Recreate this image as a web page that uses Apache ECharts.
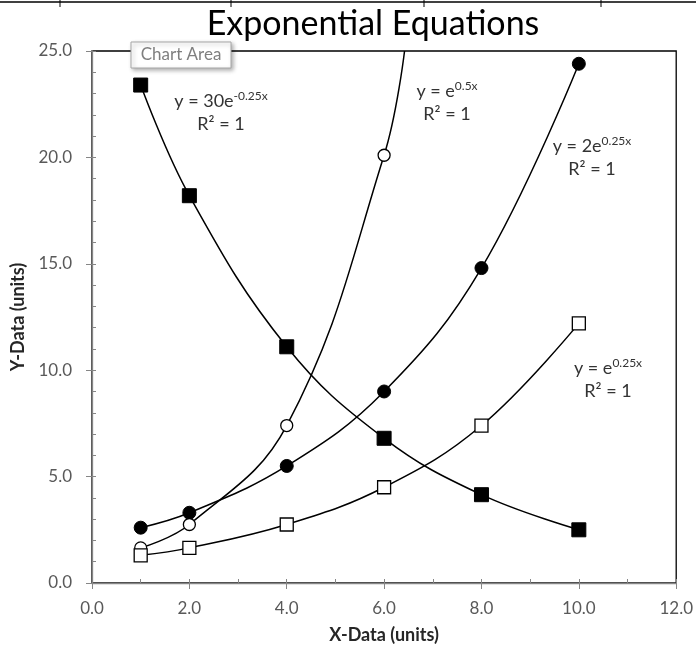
<!DOCTYPE html>
<html>
<head>
<meta charset="utf-8">
<script src="https://cdn.jsdelivr.net/npm/echarts@6/dist/echarts.min.js"></script>
<style>
  html, body { margin: 0; padding: 0; background: #fff; }
  #chart { width: 696px; height: 649px; }
</style>
</head>
<body>
<div id="chart"></div>
<script>
// x positions shared by all four series
var xData = [1, 2, 4, 6, 8, 10];
// y = 30e^-0.25x  (filled squares)
var decayVals = [23.4, 18.2, 11.1, 6.8, 4.15, 2.5];
// y = 2e^0.25x  (filled circles)
var twoGrowthVals = [2.6, 3.3, 5.5, 9.0, 14.8, 24.4];
// y = e^0.5x  (open circles), last point is where the trendline leaves the top
var fastVals = [1.65, 2.75, 7.4, 20.1];
var fastExit = [6.42, 25];
// y = e^0.25x  (open squares)
var slowVals = [1.3, 1.65, 2.75, 4.5, 7.4, 12.2];

var xTicks = [0, 2, 4, 6, 8, 10, 12];
var yTicks = [0, 5, 10, 15, 20, 25];

var FONT = 'Lato, "Open Sans", sans-serif';

function pairs(xs, ys) {
  var out = [];
  for (var i = 0; i < ys.length; i++) out.push([xs[i], ys[i]]);
  return out;
}

var fastData = pairs(xData, fastVals);
fastData.push({ value: fastExit, symbol: 'none' });

var lineStyle = { color: '#000', width: 1.5 };

// trendline equation + R² text, both lines centred on cx
function eqLabel(cx, cy, txt, sup) {
  return [
    {
      type: 'text', x: cx, y: cy - 12,
      style: {
        text: '{b|' + txt + '}{s|' + sup + '}',
        align: 'center', verticalAlign: 'top',
        rich: {
          b: { font: '18px ' + FONT, lineHeight: 20, verticalAlign: 'bottom', fill: '#333' },
          s: { font: '12px ' + FONT, lineHeight: 12, verticalAlign: 'top', fill: '#333' }
        }
      }
    },
    {
      type: 'text', x: cx, y: cy + 22,
      style: { text: 'R² = 1', align: 'center', verticalAlign: 'middle',
        font: '18px ' + FONT, fill: '#333' }
    }
  ];
}

var labels = [].concat(
  eqLabel(221, 102, 'y = 30e', '-0.25x'),
  eqLabel(447, 92, 'y = e', '0.5x'),
  eqLabel(592, 147, 'y = 2e', '0.25x'),
  eqLabel(608, 369, 'y = e', '0.25x')
);

var myChart = echarts.init(document.getElementById('chart'));
var option = {
  animation: false,
  backgroundColor: '#fff',
  title: {
    text: 'Exponential Equations',
    left: 368,
    top: 2,
    textAlign: 'center',
    textStyle: { fontFamily: FONT, fontSize: 34, fontWeight: 'normal', color: '#000' }
  },
  grid: {
    left: 92, right: 19, top: 51, bottom: 65,
    show: true, borderColor: '#000', borderWidth: 1.3, backgroundColor: 'transparent'
  },
  xAxis: [
    {
      type: 'value', min: xTicks[0], max: xTicks[xTicks.length - 1], interval: 2,
      position: 'bottom',
      name: 'X-Data (units)', nameLocation: 'middle', nameGap: 43,
      nameTextStyle: { fontFamily: FONT, fontSize: 18, fontWeight: 'bold', color: '#262626' },
      axisLine: { lineStyle: { color: '#868686', width: 1.3 } },
      axisTick: { inside: false, length: 6, lineStyle: { color: '#868686' } },
      axisLabel: { formatter: function (v) { return v.toFixed(1); }, margin: 17,
        fontFamily: FONT, fontSize: 17, color: '#595959' },
      splitLine: { show: false }
    },
    {
      type: 'value', min: xTicks[0], max: xTicks[xTicks.length - 1], interval: 1,
      position: 'bottom',
      axisLine: { show: false },
      axisTick: { inside: true, length: 4, lineStyle: { color: '#868686' } },
      axisLabel: { show: false },
      splitLine: { show: false }
    }
  ],
  yAxis: [
    {
      type: 'value', min: yTicks[0], max: yTicks[yTicks.length - 1], interval: 5,
      position: 'left',
      name: 'Y-Data (units)', nameLocation: 'middle', nameGap: 49,
      nameTextStyle: { fontFamily: FONT, fontSize: 18, fontWeight: 'bold', color: '#262626' },
      axisLine: { lineStyle: { color: '#868686', width: 1.3 } },
      axisTick: { inside: false, length: 6, lineStyle: { color: '#868686' } },
      axisLabel: { formatter: function (v) { return v.toFixed(1); }, margin: 20,
        fontFamily: FONT, fontSize: 17, color: '#595959' },
      splitLine: { show: false }
    },
    {
      type: 'value', min: yTicks[0], max: yTicks[yTicks.length - 1], interval: 1,
      position: 'left',
      axisLine: { show: false },
      axisTick: { inside: true, length: 4, lineStyle: { color: '#868686' } },
      axisLabel: { show: false },
      splitLine: { show: false }
    }
  ],
  series: [
    {
      name: '30e^-0.25x', type: 'line', smooth: 0.4, data: pairs(xData, decayVals),
      symbol: 'rect', symbolSize: 14, lineStyle: lineStyle,
      itemStyle: { color: '#000', borderColor: '#000' }
    },
    {
      name: '2e^0.25x', type: 'line', smooth: 0.4, data: pairs(xData, twoGrowthVals),
      symbol: 'circle', symbolSize: 13, lineStyle: lineStyle,
      itemStyle: { color: '#000', borderColor: '#000' }
    },
    {
      name: 'e^0.5x', type: 'line', smooth: 0.4, data: fastData,
      symbol: 'circle', symbolSize: 12, showAllSymbol: true, lineStyle: lineStyle,
      itemStyle: { color: '#fff', borderColor: '#000', borderWidth: 1.3 }
    },
    {
      name: 'e^0.25x', type: 'line', smooth: 0.4, data: pairs(xData, slowVals),
      symbol: 'rect', symbolSize: 13, lineStyle: lineStyle,
      itemStyle: { color: '#fff', borderColor: '#000', borderWidth: 1.3 }
    }
  ],
  graphic: [
    // spreadsheet cell border peeking in at the top
    { type: 'line', shape: { x1: 0, y1: 2, x2: 696, y2: 2 }, style: { stroke: '#000', lineWidth: 1.5 } },
    { type: 'line', shape: { x1: 60, y1: 0, x2: 60, y2: 7 }, style: { stroke: '#000', lineWidth: 1 } },
    { type: 'line', shape: { x1: 231, y1: 0, x2: 231, y2: 7 }, style: { stroke: '#000', lineWidth: 1 } },
    { type: 'line', shape: { x1: 424, y1: 0, x2: 424, y2: 7 }, style: { stroke: '#000', lineWidth: 1 } },
    { type: 'line', shape: { x1: 601, y1: 0, x2: 601, y2: 7 }, style: { stroke: '#000', lineWidth: 1 } },
    // hover tooltip box
    {
      type: 'rect', shape: { x: 131, y: 42, width: 100, height: 26 },
      style: { fill: '#fff', stroke: '#a6a6a6', lineWidth: 1,
        shadowBlur: 4, shadowOffsetX: 2, shadowOffsetY: 2, shadowColor: 'rgba(0,0,0,0.3)' },
      z: 100
    },
    {
      type: 'text', x: 181, y: 55, z: 101,
      style: { text: 'Chart Area', fill: '#7f7f7f', font: '17px ' + FONT,
        align: 'center', verticalAlign: 'middle' }
    }
  ].concat(labels)
};
myChart.setOption(option);
</script>
</body>
</html>
